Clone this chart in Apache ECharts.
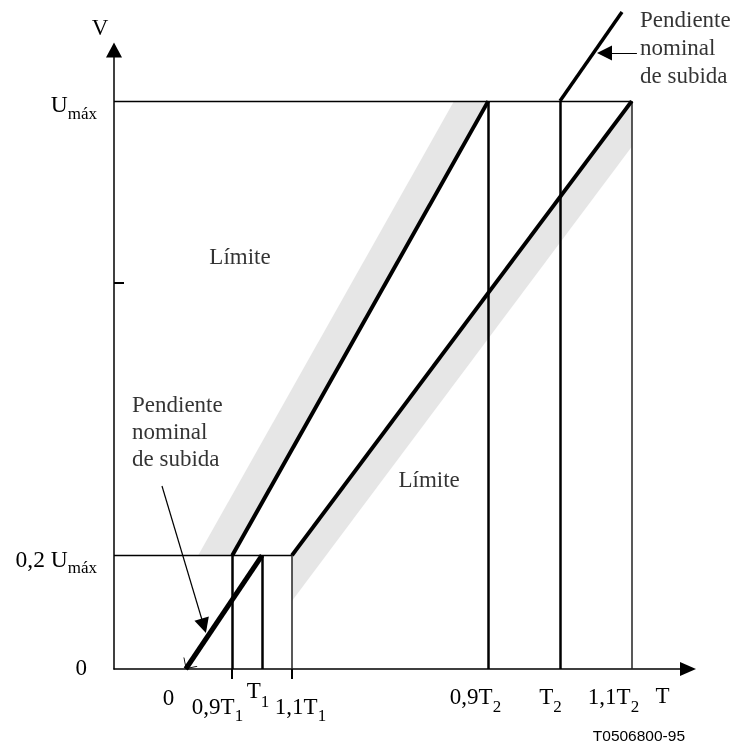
<!DOCTYPE html>
<html><head><meta charset="utf-8">
<script src="https://cdn.jsdelivr.net/npm/echarts@6/dist/echarts.min.js"></script>
<style>html,body{margin:0;padding:0;background:#fff}#c{width:736px;height:743px}</style>
</head><body><div id="c"></div>
<script>
// ---- data (schematic units: time axis 0..100, voltage in units of Umáx) ----
const tickMain  = ['0', '0,9T', 'T', '1,1T', '0,9T', 'T', '1,1T', 'T'];
const tickSub   = ['', '1', '1', '1', '2', '2', '2', ''];
const timeX     = [12.5, 20.6, 25.8, 31.0, 65.2, 77.7, 90.2];        // 0, 0,9T1, T1, 1,1T1, 0,9T2, T2, 1,1T2
const tickLabelX = [9.49, 18.03, 25.09, 32.49, 62.98, 76.05, 87.02, 95.56]; // where each tick label sits
const levelMain = ['0', '0,2 U', 'U'];
const levelSub  = ['', 'máx', 'máx'];
const levelY    = [0, 0.2, 1];
const yMarkTick = [0.681];
const nominalTop = [88.5, 1.157];     // end of upper "pendiente nominal" line
const bandWidth = 5.95;               // width of the grey tolerance bands (time units)
const noteTexts = ['Límite', 'Límite', 'Pendiente\nnominal\nde subida', 'Pendiente\nnominal\nde subida'];
const noteAnchor = [[21.95, 0.7236], [54.9, 0.331], [3.14, 0.4164], [91.64, 1.0915]];
const pointerFrom = [[8.36, 0.3222], [91.1, 1.0845]];
const pointerTo   = [[15.64, 0.0761], [85.45, 1.0845]];

// ---- layout / style (not data) ----
const FONT = 'Liberation Serif';
const xLabelPad = [ // [main padTop, sub padTop]
  [14, 0], [23, 35], [7, 21], [23, 35], [13, 26], [13, 26], [13, 26], [12, 0]
];
const chevron = 'path://M10,0 L10.01,0 L10,0.01 Z M10,10 L20,20 L18.6,20 L10,11.4 L1.4,20 L0,20 Z';

const [x0, a1, t1, b1, a2, t2, b2] = timeX;
const yLo = levelY[1], yHi = levelY[2];

const thin = 1.3, vThick = 2.5, vThin = 1.5, diag = 4;
const segs = [
  {c: [[0, yHi], [b2, yHi]], w: thin},
  {c: [[0, yLo], [b1, yLo]], w: thin},
  {c: [[a1, 0], [a1, yLo]], w: vThick},
  {c: [[t1, 0], [t1, yLo]], w: vThick},
  {c: [[b1, 0], [b1, yLo]], w: vThin, col: '#222'},
  {c: [[a2, 0], [a2, yHi]], w: vThick},
  {c: [[t2, 0], [t2, yHi]], w: vThick},
  {c: [[b2, 0], [b2, yHi]], w: vThin, col: '#222'},
  {c: [[a1, yLo], [a2, yHi]], w: diag},
  {c: [[b1, yLo], [b2, yHi]], w: diag},
  {c: [[t2, yHi], nominalTop], w: 3.5}
];

const slopeLo = (yHi - yLo) / (b2 - b1);
const bands = [
  [[a1 - bandWidth, yLo], [a1, yLo], [a2, yHi], [a2 - bandWidth, yHi]],
  [[b1, yLo], [b2, yHi], [b2, yHi - bandWidth * slopeLo], [b1, yLo - bandWidth * slopeLo]]
];

const xRich = {};
xLabelPad.forEach((l, i) => {
  xRich['m' + i] = {fontFamily: FONT, fontSize: 23, lineHeight: 24, color: '#000', verticalAlign: 'top', padding: [l[0], 0, 0, 0]};
  xRich['s' + i] = {fontFamily: FONT, fontSize: 17, lineHeight: 18, color: '#000', verticalAlign: 'top', padding: [l[1], 0, 0, 0]};
});

const chart = echarts.init(document.getElementById('c'), null, {renderer: 'canvas'});
chart.setOption({
  animation: false,
  backgroundColor: '#fff',
  title: {text: 'T0506800-95', right: 51, top: 729, padding: 0,
    textStyle: {fontFamily: 'Liberation Sans', fontSize: 15.5, fontWeight: 'normal', color: '#000'}},
  grid: {left: 114, top: 50, width: 574, height: 619, containLabel: false, outerBoundsMode: 'none'},
  xAxis: {
    type: 'value', min: 0, max: 100,
    splitLine: {show: false},
    axisLine: {show: true, lineStyle: {color: '#000', width: 1.5}, symbol: ['none', 'triangle'], symbolSize: [14, 16]},
    axisTick: {show: true, customValues: [a1, b1], inside: false, length: 10, lineStyle: {color: '#000', width: 2}},
    axisLabel: {
      show: true, customValues: tickLabelX, margin: 4, align: 'center', verticalAlign: 'top',
      showMinLabel: true, showMaxLabel: true, hideOverlap: false,
      formatter: (v) => {
        let i = tickLabelX.findIndex(t => Math.abs(t - v) < 1e-6);
        if (i < 0) return '';
        return '{m' + i + '|' + tickMain[i] + '}' + (tickSub[i] ? '{s' + i + '|' + tickSub[i] + '}' : '');
      },
      rich: xRich
    }
  },
  yAxis: {
    type: 'value', min: 0, max: 1.09,
    name: 'V', nameLocation: 'end', nameGap: 10,
    nameTextStyle: {fontFamily: FONT, fontSize: 23, color: '#000', padding: [0, 28, 0, 0]},
    splitLine: {show: false},
    axisLine: {show: true, lineStyle: {color: '#000', width: 1.5}, symbol: ['none', 'triangle'], symbolSize: [16, 15]},
    axisTick: {show: true, customValues: yMarkTick, inside: true, length: 10, lineStyle: {color: '#000', width: 2}},
    axisLabel: {
      show: true, customValues: levelY, margin: 17, align: 'right',
      showMinLabel: true, showMaxLabel: true, hideOverlap: false,
      formatter: (v) => {
        let i = levelY.findIndex(t => Math.abs(t - v) < 1e-6);
        if (i < 0) return '';
        if (!levelSub[i]) return '{z|' + levelMain[i] + '}';
        return '{m|' + levelMain[i] + '}{s|' + levelSub[i] + '}';
      },
      rich: {
        z: {fontFamily: FONT, fontSize: 23, color: '#000', padding: [0, 10, 0, 0]},
        m: {fontFamily: FONT, fontSize: 23.5, lineHeight: 24, color: '#000', verticalAlign: 'top', padding: [5, 0, 0, 0]},
        s: {fontFamily: FONT, fontSize: 17, lineHeight: 18, color: '#000', verticalAlign: 'top', padding: [17, 0, 0, 0]}
      }
    }
  },
  series: [
    {
      type: 'custom', silent: true, z: 1,
      data: bands.map(b => [b[0][0], b[0][1]]),
      renderItem: (p, api) => ({
        type: 'polygon',
        shape: {points: bands[p.dataIndex].map(pt => api.coord(pt))},
        style: {fill: '#e6e6e6'}
      })
    },
    {
      type: 'lines', coordinateSystem: 'cartesian2d', polyline: false, clip: false, silent: true, z: 3,
      symbol: ['none', 'none'],
      lineStyle: {color: '#000', opacity: 1, curveness: 0},
      data: segs.map(s => ({coords: s.c, lineStyle: {width: s.w, color: s.col || '#000', opacity: 1}}))
    },
    {
      type: 'lines', coordinateSystem: 'cartesian2d', polyline: false, clip: false, silent: true, z: 4,
      symbol: [chevron, 'none'], symbolSize: 17,
      lineStyle: {color: '#000', width: 5, opacity: 1, curveness: 0},
      data: [{coords: [[x0, levelY[0]], [t1, yLo]]}]
    },
    {
      type: 'lines', coordinateSystem: 'cartesian2d', polyline: false, clip: false, silent: true, z: 4,
      symbol: ['none', 'triangle'], symbolSize: 15,
      lineStyle: {color: '#000', width: 1.2, opacity: 1, curveness: 0},
      itemStyle: {color: '#000'},
      data: pointerFrom.map((f, i) => ({coords: [f, pointerTo[i]]}))
    },
    {
      type: 'scatter', symbolSize: 1, clip: false, silent: true, z: 5,
      itemStyle: {color: 'transparent'},
      label: {show: true, position: 'inside', fontFamily: FONT, fontSize: 23, color: '#000', verticalAlign: 'middle'},
      data: noteTexts.map((t, i) => ({
        value: noteAnchor[i],
        label: {formatter: t, align: i < 2 ? 'center' : 'left', lineHeight: i === 2 ? 27 : 28}
      }))
    }
  ]
});
</script></body></html>
